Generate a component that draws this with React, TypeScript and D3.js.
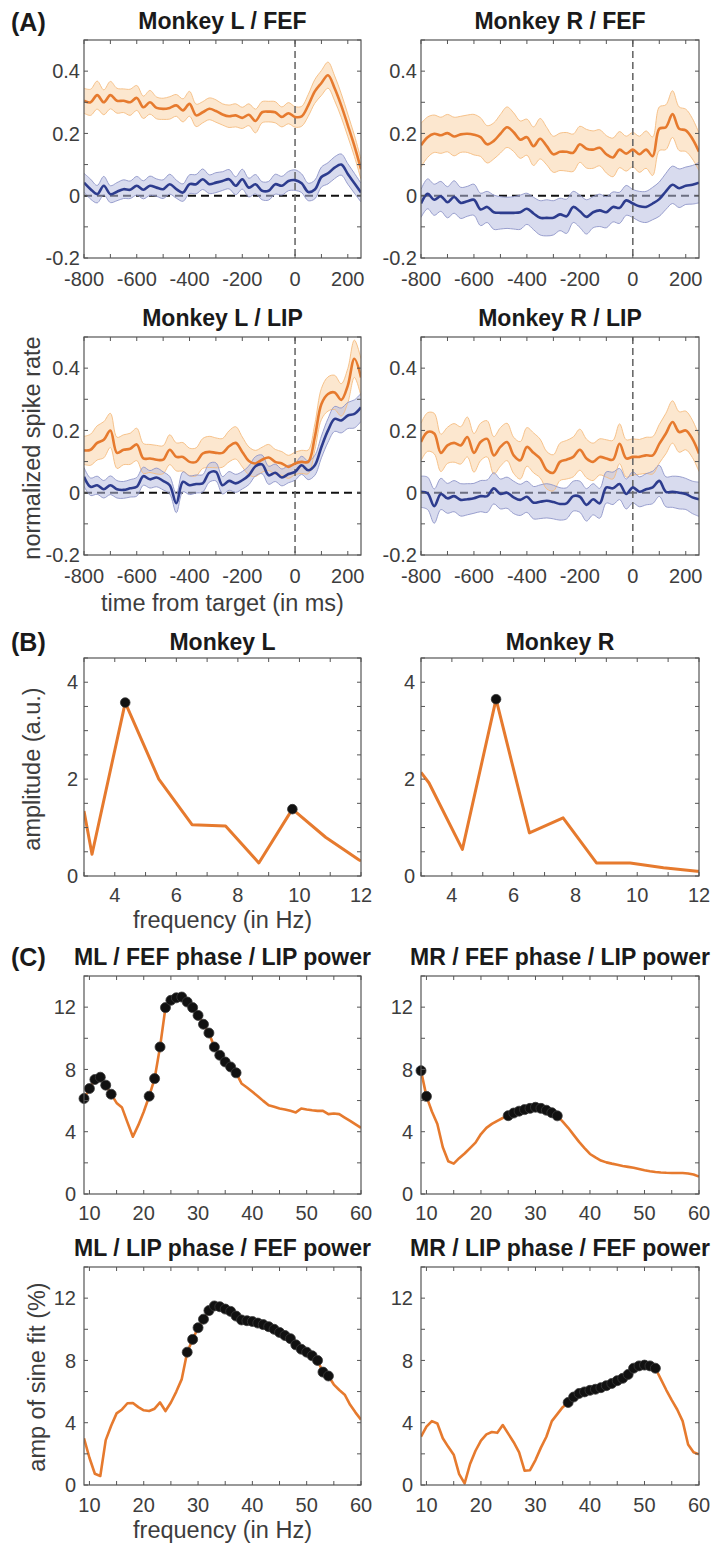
import React from 'react';
import * as d3 from 'd3';

// ---------------- DATA ----------------
// Panel A: time axis (ms from target)
const timeMs = [-800, -775, -750, -725, -700, -675, -650, -625, -600, -575, -550, -525, -500, -475, -450, -425, -400, -375, -350, -325, -300, -275, -250, -225, -200, -175, -150, -125, -100, -75, -50, -25, 0, 25, 50, 75, 100, 125, 150, 175, 200, 225, 250];

// Monkey L / FEF
const lfOrange = [0.305, 0.30, 0.323, 0.30, 0.323, 0.305, 0.305, 0.30, 0.314, 0.284, 0.30, 0.282, 0.279, 0.282, 0.29, 0.274, 0.295, 0.258, 0.268, 0.279, 0.272, 0.261, 0.255, 0.258, 0.25, 0.26, 0.24, 0.268, 0.27, 0.268, 0.253, 0.265, 0.253, 0.255, 0.29, 0.335, 0.362, 0.387, 0.345, 0.29, 0.226, 0.16, 0.085];
const lfOrangeSem = [0.04, 0.042, 0.045, 0.04, 0.044, 0.04, 0.038, 0.042, 0.04, 0.036, 0.038, 0.035, 0.034, 0.036, 0.035, 0.037, 0.04, 0.036, 0.034, 0.035, 0.036, 0.034, 0.036, 0.037, 0.034, 0.035, 0.038, 0.034, 0.033, 0.034, 0.032, 0.034, 0.033, 0.032, 0.035, 0.038, 0.04, 0.042, 0.04, 0.038, 0.036, 0.034, 0.032];
const lfBlue = [0.042, 0.021, 0.005, 0.032, 0.005, 0.013, 0.021, 0.019, 0.032, 0.019, 0.032, 0.026, 0.021, 0.037, 0.021, 0.01, 0.037, 0.037, 0.053, 0.037, 0.042, 0.047, 0.053, 0.032, 0.053, 0.026, 0.037, 0.016, 0.016, 0.037, 0.032, 0.047, 0.05, 0.04, 0.012, 0.02, 0.06, 0.072, 0.09, 0.1, 0.07, 0.04, 0.01];
const lfBlueSem = [0.03, 0.032, 0.028, 0.03, 0.027, 0.029, 0.03, 0.028, 0.03, 0.029, 0.031, 0.028, 0.03, 0.032, 0.029, 0.028, 0.03, 0.031, 0.033, 0.03, 0.032, 0.03, 0.031, 0.029, 0.032, 0.03, 0.031, 0.029, 0.03, 0.032, 0.03, 0.031, 0.033, 0.03, 0.028, 0.03, 0.032, 0.034, 0.035, 0.034, 0.033, 0.032, 0.03];

// Monkey R / FEF
const rfOrange = [0.162, 0.188, 0.199, 0.194, 0.201, 0.19, 0.197, 0.199, 0.196, 0.188, 0.165, 0.176, 0.199, 0.22, 0.204, 0.18, 0.188, 0.159, 0.183, 0.159, 0.133, 0.141, 0.141, 0.138, 0.165, 0.151, 0.148, 0.154, 0.133, 0.123, 0.148, 0.135, 0.148, 0.133, 0.148, 0.127, 0.215, 0.22, 0.262, 0.215, 0.21, 0.183, 0.141];
const rfOrangeSem = [0.07, 0.065, 0.06, 0.058, 0.06, 0.062, 0.058, 0.06, 0.065, 0.062, 0.06, 0.058, 0.062, 0.065, 0.062, 0.06, 0.058, 0.062, 0.065, 0.06, 0.058, 0.06, 0.062, 0.06, 0.058, 0.062, 0.06, 0.058, 0.06, 0.062, 0.058, 0.056, 0.055, 0.058, 0.06, 0.062, 0.07, 0.072, 0.075, 0.07, 0.068, 0.065, 0.06];
const rfBlue = [-0.025, 0.006, -0.013, -0.002, -0.021, -0.004, -0.023, -0.018, -0.013, -0.044, -0.036, -0.053, -0.055, -0.055, -0.055, -0.053, -0.042, -0.057, -0.071, -0.071, -0.071, -0.06, -0.066, -0.036, -0.05, -0.068, -0.053, -0.047, -0.053, -0.036, -0.039, -0.015, -0.025, -0.034, -0.036, -0.025, -0.011, 0.014, 0.035, 0.024, 0.032, 0.035, 0.042];
const rfBlueSem = [0.045, 0.048, 0.05, 0.048, 0.05, 0.052, 0.05, 0.048, 0.05, 0.052, 0.05, 0.055, 0.052, 0.05, 0.052, 0.055, 0.05, 0.052, 0.055, 0.058, 0.055, 0.052, 0.055, 0.05, 0.052, 0.055, 0.05, 0.052, 0.05, 0.048, 0.05, 0.048, 0.045, 0.048, 0.05, 0.052, 0.055, 0.058, 0.06, 0.062, 0.06, 0.062, 0.065];

// Monkey L / LIP
const llOrange = [0.136, 0.138, 0.16, 0.17, 0.2, 0.128, 0.138, 0.141, 0.155, 0.11, 0.11, 0.106, 0.106, 0.138, 0.115, 0.115, 0.099, 0.099, 0.126, 0.131, 0.128, 0.128, 0.149, 0.16, 0.131, 0.102, 0.094, 0.106, 0.113, 0.099, 0.094, 0.083, 0.094, 0.099, 0.099, 0.179, 0.285, 0.317, 0.322, 0.298, 0.344, 0.43, 0.37];
const llOrangeSem = [0.045, 0.05, 0.055, 0.058, 0.055, 0.05, 0.048, 0.05, 0.052, 0.048, 0.045, 0.046, 0.045, 0.048, 0.045, 0.046, 0.044, 0.045, 0.048, 0.05, 0.048, 0.046, 0.05, 0.052, 0.048, 0.045, 0.042, 0.04, 0.042, 0.04, 0.038, 0.037, 0.036, 0.037, 0.038, 0.042, 0.05, 0.055, 0.055, 0.052, 0.055, 0.06, 0.06];
const llBlue = [0.051, 0.019, 0.024, 0.011, 0.024, 0.011, 0.009, 0.014, 0.019, 0.053, 0.043, 0.049, 0.038, 0.024, -0.034, 0.035, 0.024, 0.028, 0.03, 0.064, 0.067, 0.024, 0.038, 0.03, 0.04, 0.056, 0.085, 0.091, 0.056, 0.064, 0.049, 0.06, 0.067, 0.088, 0.072, 0.088, 0.147, 0.2, 0.237, 0.232, 0.248, 0.253, 0.274];
const llBlueSem = [0.03, 0.028, 0.029, 0.028, 0.03, 0.028, 0.027, 0.028, 0.03, 0.029, 0.028, 0.03, 0.029, 0.028, 0.03, 0.032, 0.03, 0.029, 0.028, 0.03, 0.029, 0.028, 0.03, 0.029, 0.028, 0.03, 0.031, 0.03, 0.029, 0.028, 0.027, 0.028, 0.027, 0.029, 0.03, 0.032, 0.035, 0.038, 0.04, 0.04, 0.042, 0.045, 0.045];

// Monkey R / LIP
const rlOrange = [0.163, 0.195, 0.19, 0.128, 0.152, 0.16, 0.152, 0.179, 0.128, 0.163, 0.173, 0.12, 0.147, 0.163, 0.12, 0.104, 0.147, 0.128, 0.11, 0.072, 0.064, 0.099, 0.106, 0.115, 0.138, 0.11, 0.099, 0.115, 0.11, 0.106, 0.157, 0.11, 0.115, 0.115, 0.12, 0.12, 0.157, 0.19, 0.227, 0.195, 0.2, 0.173, 0.126];
const rlOrangeSem = [0.06, 0.062, 0.065, 0.06, 0.058, 0.062, 0.06, 0.064, 0.062, 0.06, 0.058, 0.06, 0.062, 0.06, 0.058, 0.06, 0.062, 0.064, 0.062, 0.06, 0.058, 0.06, 0.062, 0.064, 0.066, 0.062, 0.06, 0.058, 0.06, 0.062, 0.064, 0.06, 0.058, 0.056, 0.058, 0.06, 0.062, 0.065, 0.068, 0.065, 0.062, 0.06, 0.058];
const rlBlue = [0.003, -0.002, -0.043, -0.004, -0.018, -0.011, -0.023, -0.021, -0.018, -0.011, -0.011, 0.014, -0.004, 0, -0.015, -0.023, -0.013, -0.032, -0.029, -0.026, -0.03, -0.036, -0.034, -0.011, -0.013, -0.039, -0.021, -0.034, 0.017, 0.014, 0.028, -0.004, 0.017, 0.003, 0.011, 0.017, 0.038, 0.003, 0.003, 0, -0.004, -0.015, -0.021];
const rlBlueSem = [0.05, 0.052, 0.055, 0.05, 0.048, 0.05, 0.052, 0.05, 0.048, 0.05, 0.052, 0.05, 0.048, 0.05, 0.052, 0.05, 0.05, 0.052, 0.054, 0.055, 0.054, 0.052, 0.05, 0.048, 0.05, 0.052, 0.05, 0.048, 0.05, 0.052, 0.05, 0.048, 0.05, 0.048, 0.05, 0.052, 0.05, 0.048, 0.05, 0.052, 0.05, 0.052, 0.055];

const aXTicks = [-800, -700, -600, -500, -400, -300, -200, -100, 0, 100, 200];
const aXLabels = [-800, -600, -400, -200, 0, 200];
const aYTicks = [-0.2, -0.1, 0, 0.1, 0.2, 0.3, 0.4, 0.5];
const aYLabels = [-0.2, 0, 0.2, 0.4];

// Panel B: amplitude spectra
const bFreq = [3.0, 3.26, 4.34, 5.43, 6.51, 7.6, 8.68, 9.77, 10.85, 11.94, 12.0];
const bMonkeyL = [1.34, 0.45, 3.58, 2.0, 1.06, 1.03, 0.27, 1.38, 0.8, 0.33, 0.31];
const bMonkeyR = [2.14, 1.92, 0.55, 3.65, 0.89, 1.2, 0.27, 0.27, 0.17, 0.1, 0.1];
const bPeaksL = [4.34, 9.77];
const bPeaksR = [5.43];
const bXTicks = [3, 4, 5, 6, 7, 8, 9, 10, 11, 12];
const bXLabels = [4, 6, 8, 10, 12];
const bYTicks = [0, 0.5, 1, 1.5, 2, 2.5, 3, 3.5, 4, 4.5];
const bYLabels = [0, 2, 4];

// Panel C: amplitude of sine fit (%)
const cFreq = [9, 10, 11, 12, 13, 14, 15, 16, 17, 18, 19, 20, 21, 22, 23, 24, 25, 26, 27, 28, 29, 30, 31, 32, 33, 34, 35, 36, 37, 38, 39, 40, 41, 42, 43, 44, 45, 46, 47, 48, 49, 50, 51, 52, 53, 54, 55, 56, 57, 58, 59, 60];
const mlFefLip = [6.13, 6.77, 7.35, 7.5, 6.99, 6.41, 5.85, 5.55, 4.6, 3.68, 4.42, 5.28, 6.28, 7.41, 9.44, 11.97, 12.44, 12.6, 12.65, 12.33, 11.97, 11.47, 10.9, 10.34, 9.44, 8.91, 8.48, 8.16, 7.78, 7.1, 6.84, 6.56, 6.28, 5.98, 5.7, 5.6, 5.49, 5.43, 5.34, 5.24, 5.49, 5.43, 5.38, 5.34, 5.34, 5.13, 5.17, 5.13, 4.91, 4.7, 4.47, 4.25];
const mlFefLipSig = [[9, 14], [21, 37]];
const mrFefLip = [7.92, 6.27, 5.3, 4.5, 3.0, 2.1, 1.95, 2.3, 2.6, 2.95, 3.3, 3.85, 4.25, 4.5, 4.7, 4.88, 5.03, 5.2, 5.32, 5.42, 5.5, 5.57, 5.5, 5.38, 5.22, 5.02, 4.65, 4.25, 3.8, 3.35, 2.95, 2.57, 2.35, 2.15, 2.03, 1.95, 1.88, 1.8, 1.74, 1.68, 1.6, 1.52, 1.46, 1.41, 1.38, 1.36, 1.35, 1.35, 1.35, 1.32, 1.25, 1.12];
const mrFefLipSig = [[9, 10], [25, 34]];
const mlLipFef = [3.0, 1.75, 0.72, 0.58, 2.88, 3.8, 4.6, 4.85, 5.25, 5.27, 5.0, 4.8, 4.75, 4.9, 5.3, 4.75, 5.3, 6.0, 6.8, 8.53, 9.35, 10.1, 10.65, 11.2, 11.5, 11.45, 11.3, 11.15, 10.85, 10.6, 10.55, 10.5, 10.4, 10.3, 10.17, 10.0, 9.8, 9.6, 9.4, 9.0, 8.72, 8.53, 8.3, 8.0, 7.25, 7.0, 6.45, 6.1, 5.8, 5.15, 4.65, 4.2];
const mlLipFefSig = [[28, 54]];
const mrLipFef = [3.1, 3.75, 4.1, 3.95, 3.0, 2.45, 1.95, 0.7, 0.1, 1.35, 2.2, 2.85, 3.25, 3.4, 3.35, 3.85, 3.3, 2.75, 2.1, 0.92, 0.95, 1.6, 2.4, 3.1, 4.1, 4.55, 5.0, 5.3, 5.65, 5.88, 5.98, 6.08, 6.15, 6.25, 6.38, 6.52, 6.7, 6.85, 7.1, 7.5, 7.65, 7.7, 7.65, 7.5, 6.8, 6.1, 5.45, 4.85, 4.1, 2.6, 2.1, 1.97];
const mrLipFefSig = [[36, 52]];
const cXTicks = [10, 15, 20, 25, 30, 35, 40, 45, 50, 55, 60];
const cXLabels = [10, 20, 30, 40, 50, 60];
const cYTicks = [0, 2, 4, 6, 8, 10, 12, 14];
const cYLabels = [0, 4, 8, 12];

// ---------------- STYLE / LAYOUT ----------------
const FONT = "'Liberation Sans', Arial, Helvetica, sans-serif";
const ORANGE = '#E67A2E';
const BLUE = '#2D3C8E';
const AXIS = '#555555';
const TEXT = '#3d3d3d';
const TICK_FS = 20;
const TITLE_FS = 23;
const LABEL_FS = 23.5;
const COLS = [84, 421];
const COLW = [277, 278];
const PH = 218;

type FrameProps = {
  x: d3.ScaleLinear<number, number>;
  y: d3.ScaleLinear<number, number>;
  xTicks: number[];
  xLabels: number[];
  yTicks: number[];
  yLabels: number[];
  xLabelOffset: number;
  yLabelGap: number;
};

function Frame({ x, y, xTicks, xLabels, yTicks, yLabels, xLabelOffset, yLabelGap }: FrameProps) {
  const [x0, x1] = x.range();
  const [y1, y0] = y.range();
  const tl = 4;
  return (
    <g>
      <rect x={x0} y={y0} width={x1 - x0} height={y1 - y0} fill="none" stroke={AXIS} strokeWidth={1.2} />
      {xTicks.map((t) => (
        <g key={'xt' + t}>
          <line x1={x(t)} x2={x(t)} y1={y1} y2={y1 - tl} stroke={AXIS} strokeWidth={1} />
          <line x1={x(t)} x2={x(t)} y1={y0} y2={y0 + tl} stroke={AXIS} strokeWidth={1} />
        </g>
      ))}
      {yTicks.map((t) => (
        <g key={'yt' + t}>
          <line x1={x0} x2={x0 + tl} y1={y(t)} y2={y(t)} stroke={AXIS} strokeWidth={1} />
          <line x1={x1} x2={x1 - tl} y1={y(t)} y2={y(t)} stroke={AXIS} strokeWidth={1} />
        </g>
      ))}
      {xLabels.map((t) => (
        <text key={'xl' + t} x={x(t)} y={y1 + xLabelOffset} textAnchor="middle" fontSize={TICK_FS} fill={TEXT} fontFamily={FONT}>
          {String(t)}
        </text>
      ))}
      {yLabels.map((t) => (
        <text key={'yl' + t} x={x0 - yLabelGap} y={y(t)} dy="0.36em" textAnchor="end" fontSize={TICK_FS} fill={TEXT} fontFamily={FONT}>
          {String(t)}
        </text>
      ))}
    </g>
  );
}

function Title({ x, y, text }: { x: number; y: number; text: string }) {
  return (
    <text x={x} y={y} dy="0.36em" textAnchor="middle" fontSize={TITLE_FS} fontWeight={700} fill="#1a1a1a" fontFamily={FONT}>
      {text}
    </text>
  );
}

type TraceProps = {
  id: string;
  col: number;
  top: number;
  title: string;
  orange: number[];
  orangeSem: number[];
  blue: number[];
  blueSem: number[];
};

function TracePanel({ id, col, top, title, orange, orangeSem, blue, blueSem }: TraceProps) {
  const x = d3.scaleLinear().domain([-800, 250]).range([COLS[col], COLS[col] + COLW[col]]);
  const y = d3.scaleLinear().domain([-0.2, 0.5]).range([top + PH, top]);
  const curve = d3.curveCatmullRom.alpha(0.5);
  const band = (m: number[], s: number[]) =>
    d3.area<number>().x((_, i) => x(timeMs[i])).y0((d, i) => y(d - s[i])).y1((d, i) => y(d + s[i])).curve(curve)(m) || '';
  const edge = (m: number[], s: number[], sign: number) =>
    d3.line<number>().x((_, i) => x(timeMs[i])).y((d, i) => y(d + sign * s[i])).curve(curve)(m) || '';
  const mean = (m: number[]) => d3.line<number>().x((_, i) => x(timeMs[i])).y((d) => y(d)).curve(curve)(m) || '';
  const [x0, x1] = x.range();
  return (
    <g>
      <defs>
        <clipPath id={id}>
          <rect x={x0} y={top} width={x1 - x0} height={PH} />
        </clipPath>
      </defs>
      <Title x={(x0 + x1) / 2} y={top - 19} text={title} />
      <g clipPath={`url(#${id})`}>
        <line x1={x0} x2={x1} y1={y(0)} y2={y(0)} stroke="#111" strokeWidth={2} strokeDasharray="8,5" />
        <path d={band(orange, orangeSem)} fill="#FAD09F" fillOpacity={0.5} />
        <path d={band(blue, blueSem)} fill="#B8BDE0" fillOpacity={0.55} />
        <path d={edge(orange, orangeSem, 1)} fill="none" stroke="#F5BC80" strokeWidth={0.9} />
        <path d={edge(orange, orangeSem, -1)} fill="none" stroke="#F5BC80" strokeWidth={0.9} />
        <path d={edge(blue, blueSem, 1)} fill="none" stroke="#8E95C8" strokeWidth={0.9} />
        <path d={edge(blue, blueSem, -1)} fill="none" stroke="#8E95C8" strokeWidth={0.9} />
        <line x1={x(0)} x2={x(0)} y1={top} y2={top + PH} stroke="#6b6b6b" strokeWidth={1.6} strokeDasharray="7,4" />
        <path d={mean(orange)} fill="none" stroke={ORANGE} strokeWidth={2.6} strokeLinejoin="round" />
        <path d={mean(blue)} fill="none" stroke={BLUE} strokeWidth={2.6} strokeLinejoin="round" />
      </g>
      <Frame x={x} y={y} xTicks={aXTicks} xLabels={aXLabels} yTicks={aYTicks} yLabels={aYLabels} xLabelOffset={28} yLabelGap={4} />
    </g>
  );
}

function SpectrumPanel({ id, col, top, title, values, peaks }: { id: string; col: number; top: number; title: string; values: number[]; peaks: number[] }) {
  const x = d3.scaleLinear().domain([3, 12]).range([COLS[col], COLS[col] + COLW[col]]);
  const y = d3.scaleLinear().domain([0, 4.5]).range([top + PH, top]);
  const line = d3.line<number>().x((_, i) => x(bFreq[i])).y((d) => y(d))(values) || '';
  const [x0, x1] = x.range();
  return (
    <g>
      <defs>
        <clipPath id={id}>
          <rect x={x0} y={top - 10} width={x1 - x0} height={PH + 10} />
        </clipPath>
      </defs>
      <Title x={(x0 + x1) / 2} y={top - 16} text={title} />
      <g clipPath={`url(#${id})`}>
        <path d={line} fill="none" stroke={ORANGE} strokeWidth={3} strokeLinejoin="round" />
      </g>
      {peaks.map((f) => {
        const i = bFreq.indexOf(f);
        return <circle key={f} cx={x(f)} cy={y(values[i])} r={4.8} fill="#111" stroke="#333" strokeWidth={0.8} />;
      })}
      <Frame x={x} y={y} xTicks={bXTicks} xLabels={bXLabels} yTicks={bYTicks} yLabels={bYLabels} xLabelOffset={26} yLabelGap={6} />
    </g>
  );
}

function SinePanel({ id, col, top, title, values, sig, xLabelOffset }: { id: string; col: number; top: number; title: string; values: number[]; sig: number[][]; xLabelOffset: number }) {
  const x = d3.scaleLinear().domain([9, 60]).range([COLS[col], COLS[col] + COLW[col]]);
  const y = d3.scaleLinear().domain([0, 14]).range([top + PH, top]);
  const line = d3.line<number>().x((_, i) => x(cFreq[i])).y((d) => y(d))(values) || '';
  const [x0, x1] = x.range();
  const isSig = (f: number) => sig.some(([a, b]) => f >= a && f <= b);
  return (
    <g>
      <defs>
        <clipPath id={id}>
          <rect x={x0} y={top} width={x1 - x0} height={PH} />
        </clipPath>
      </defs>
      <Title x={(x0 + x1) / 2} y={top - 19} text={title} />
      <g clipPath={`url(#${id})`}>
        <path d={line} fill="none" stroke={ORANGE} strokeWidth={2.6} strokeLinejoin="round" />
      </g>
      {cFreq.map((f, i) =>
        isSig(f) ? <circle key={f} cx={x(f)} cy={y(values[i])} r={5} fill="#111" stroke="#3a3a3a" strokeWidth={0.8} /> : null
      )}
      <Frame x={x} y={y} xTicks={cXTicks} xLabels={cXLabels} yTicks={cYTicks} yLabels={cYLabels} xLabelOffset={xLabelOffset} yLabelGap={8} />
    </g>
  );
}

function PanelLabel({ y, text }: { y: number; text: string }) {
  return (
    <text x={11} y={y} dy="0.36em" fontSize={25} fontWeight={700} fill="#1a1a1a" fontFamily={FONT}>
      {text}
    </text>
  );
}

function AxisLabel({ x, y, text, rotate }: { x: number; y: number; text: string; rotate?: boolean }) {
  return (
    <text
      x={x}
      y={y}
      textAnchor="middle"
      fontSize={LABEL_FS}
      fill={TEXT}
      fontFamily={FONT}
      transform={rotate ? `rotate(-90 ${x} ${y})` : undefined}
    >
      {text}
    </text>
  );
}

export default function App() {
  const rowA1 = 40, rowA2 = 337, rowB = 658, rowC1 = 976, rowC2 = 1267;
  return (
    <svg
      width={717}
      height={1544}
      viewBox="0 0 717 1544"
      style={{ position: 'absolute', left: 0, top: 0, background: '#fff', display: 'block' }}
    >
      <rect x={0} y={0} width={717} height={1544} fill="#fff" />
      <PanelLabel y={22} text="(A)" />
      <PanelLabel y={642} text="(B)" />
      <PanelLabel y={957} text="(C)" />

      <TracePanel id="cA1" col={0} top={rowA1} title="Monkey L / FEF" orange={lfOrange} orangeSem={lfOrangeSem} blue={lfBlue} blueSem={lfBlueSem} />
      <TracePanel id="cA2" col={1} top={rowA1} title="Monkey R / FEF" orange={rfOrange} orangeSem={rfOrangeSem} blue={rfBlue} blueSem={rfBlueSem} />
      <TracePanel id="cA3" col={0} top={rowA2} title="Monkey L / LIP" orange={llOrange} orangeSem={llOrangeSem} blue={llBlue} blueSem={llBlueSem} />
      <TracePanel id="cA4" col={1} top={rowA2} title="Monkey R / LIP" orange={rlOrange} orangeSem={rlOrangeSem} blue={rlBlue} blueSem={rlBlueSem} />
      <AxisLabel x={40} y={448} text="normalized spike rate" rotate />
      <AxisLabel x={COLS[0] + COLW[0] / 2} y={611} text="time from target (in ms)" />

      <SpectrumPanel id="cB1" col={0} top={rowB} title="Monkey L" values={bMonkeyL} peaks={bPeaksL} />
      <SpectrumPanel id="cB2" col={1} top={rowB} title="Monkey R" values={bMonkeyR} peaks={bPeaksR} />
      <AxisLabel x={40} y={rowB + PH / 2 + 2} text="amplitude (a.u.)" rotate />
      <AxisLabel x={COLS[0] + COLW[0] / 2} y={928} text="frequency (in Hz)" />

      <SinePanel id="cC1" col={0} top={rowC1} title="ML / FEF phase / LIP power" values={mlFefLip} sig={mlFefLipSig} xLabelOffset={26} />
      <SinePanel id="cC2" col={1} top={rowC1} title="MR / FEF phase / LIP power" values={mrFefLip} sig={mrFefLipSig} xLabelOffset={26} />
      <SinePanel id="cC3" col={0} top={rowC2} title="ML / LIP phase / FEF power" values={mlLipFef} sig={mlLipFefSig} xLabelOffset={27} />
      <SinePanel id="cC4" col={1} top={rowC2} title="MR / LIP phase / FEF power" values={mrLipFef} sig={mrLipFefSig} xLabelOffset={27} />
      <AxisLabel x={45} y={rowC2 + PH / 2 + 1} text="amp of sine fit (%)" rotate />
      <AxisLabel x={COLS[0] + COLW[0] / 2} y={1538} text="frequency (in Hz)" />
    </svg>
  );
}
